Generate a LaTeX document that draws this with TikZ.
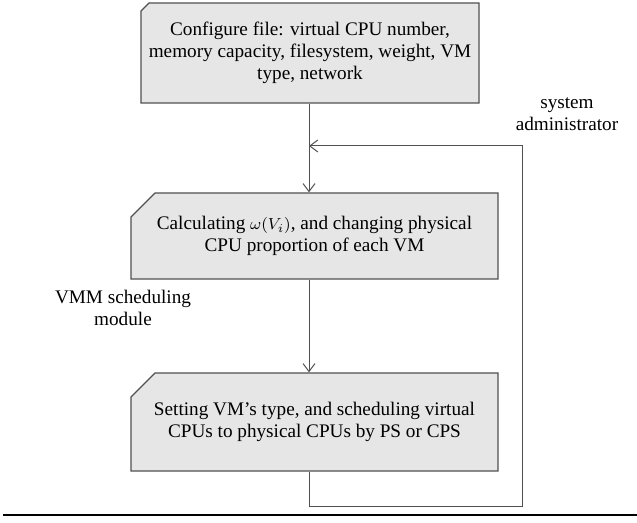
\documentclass[tikz,border=0pt]{standalone}
\usepackage{fontspec}
\setmainfont{Liberation Serif}
\usetikzlibrary{shapes.misc,arrows.meta}

\definecolor{boxgray}{RGB}{230,230,230}
\definecolor{edgegray}{RGB}{80,80,80}

\begin{document}
\begin{tikzpicture}[x=0.5pt, y=-0.5pt,
  every node/.style={font=\fontsize{9.6pt}{11pt}\selectfont},
  stage/.style={chamfered rectangle, chamfered rectangle corners=north west,
    chamfered rectangle xsep=6pt, chamfered rectangle ysep=6pt,
    draw=edgegray, fill=boxgray, line width=0.6pt, align=center, inner sep=0pt},
  flow/.style={-{Straight Barb[length=4pt,width=6pt]}, draw=edgegray, line width=0.5pt},
  note/.style={align=center}]
  \useasboundingbox (0,0) rectangle (637,523);
  % the three stages
  \node[stage, chamfered rectangle xsep=2pt, chamfered rectangle ysep=2pt,
    minimum width=169pt, minimum height=50pt] (config) at (310,53)
    {Configure file: virtual CPU number,\\ memory capacity, filesystem, weight, VM\\ type, network};
  \node[stage, minimum width=183.5pt, minimum height=43pt] (weight) at (314.5,236)
    {Calculating {\footnotesize$\omega(V_i)$}, and changing physical\\ CPU proportion of each VM};
  \node[stage, minimum width=183.5pt, minimum height=49pt] (sched) at (314.5,422)
    {Setting VM’s type, and scheduling virtual\\ CPUs to physical CPUs by PS or CPS};
  % side labels
  \node[note] (admin) at (567,114) {system\\ administrator};
  \node[note] (vmm) at (123,308) {VMM scheduling\\ module};
  % trunk and feedback loop
  \coordinate (trunk) at (309,0);
  \coordinate (loopcorner) at (522,506);
  \coordinate (entry) at (309,146);
  \draw[flow] (config.south -| trunk) -- (weight.north -| trunk);
  \draw[flow] (weight.south -| trunk) -- (sched.north -| trunk);
  \draw[flow] (sched.south -| trunk) |- (loopcorner) |- (entry);
  % rule under the figure
  \draw[line width=0.8pt] (3,515) -- (637,515);
\end{tikzpicture}
\end{document}
